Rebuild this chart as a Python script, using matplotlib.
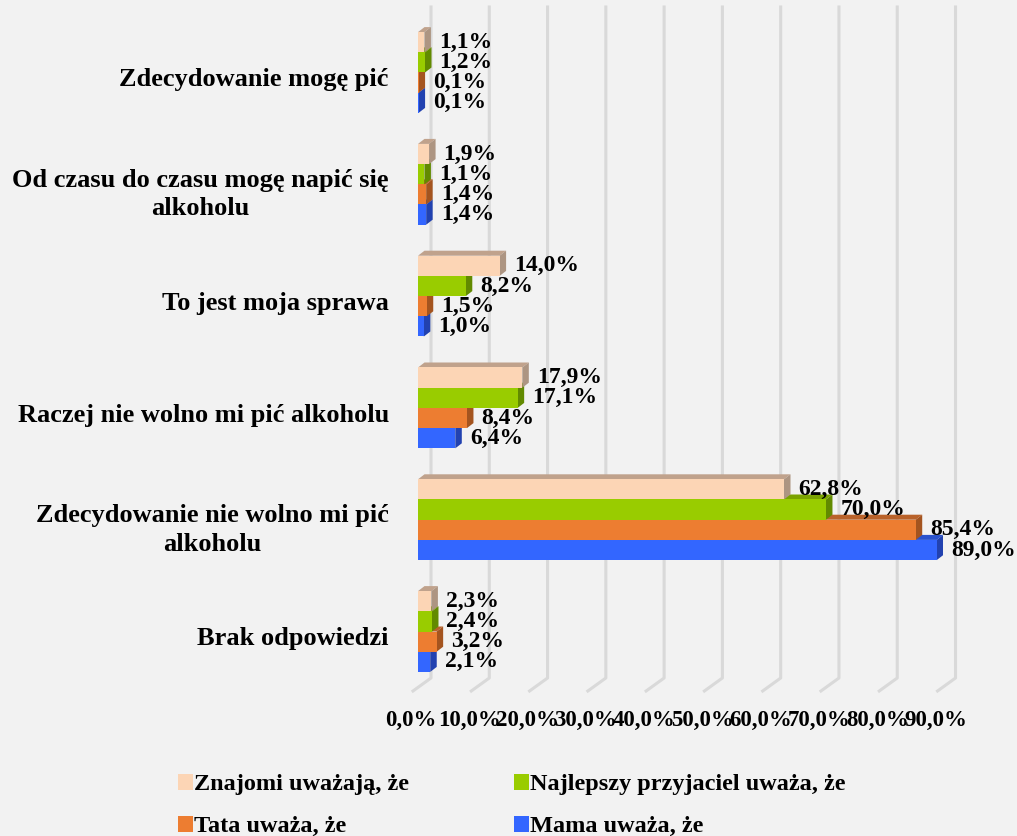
import matplotlib.pyplot as plt
import matplotlib.transforms as mtransforms
from matplotlib.patches import Polygon, Patch

plt.rcParams["font.family"] = ["Liberation Serif", "DejaVu Serif"]
plt.rcParams["font.weight"] = "bold"

categories = [
    "Zdecydowanie mogę pić",
    "Od czasu do czasu mogę napić się\nalkoholu",
    "To jest moja sprawa",
    "Raczej nie wolno mi pić alkoholu",
    "Zdecydowanie nie wolno mi pić\nalkoholu",
    "Brak odpowiedzi",
]
series_names = [
    "Znajomi uważają, że",
    "Najlepszy przyjaciel uważa, że",
    "Tata uważa, że",
    "Mama uważa, że",
]
znajomi = [1.1, 1.9, 14.0, 17.9, 62.8, 2.3]
przyjaciel = [1.2, 1.1, 8.2, 17.1, 70.0, 2.4]
tata = [0.1, 1.4, 1.5, 8.4, 85.4, 3.2]
mama = [0.1, 1.4, 1.0, 6.4, 89.0, 2.1]
x_ticks = [0, 10, 20, 30, 40, 50, 60, 70, 80, 90]

# front / top / side colours of each series
styles = [
    ("#FCD5B5", "#C0A28C", "#AD9582"),
    ("#99CC00", "#7BA300", "#628A00"),
    ("#ED7D31", "#B9622A", "#A4541F"),
    ("#3366FF", "#2A52CC", "#2242B0"),
]

W, H = 1017, 836
fig = plt.figure(figsize=(W / 100, H / 100), dpi=100, facecolor="#F2F2F2")

# pixel geometry of the plotting box
x0_px, px_per_pct = 418, 5.828
top_px, bottom_px = 7, 678
y0_px, px_per_cat = 72.5, 111.8
ax = fig.add_axes([x0_px / W, 1 - bottom_px / H,
                   90 * px_per_pct / W, (bottom_px - top_px) / H])
ax.set_facecolor("none")
ax.set_xlim(0, 90)
ax.set_ylim((bottom_px - y0_px) / px_per_cat, (top_px - y0_px) / px_per_cat)
for s in ax.spines.values():
    s.set_visible(False)

# 3d depth of the bars and of the floor, in data units
dx = 6.5 / px_per_pct
dy = 5 / px_per_cat
wall_dx = 13 / px_per_pct
floor_dx = 5 / px_per_pct
floor_dy = 13 / px_per_cat
bar_h = 20.2 / px_per_cat

y_bottom = ax.get_ylim()[0]
y_top = ax.get_ylim()[1]
for t in x_ticks:
    ax.plot([t + wall_dx, t + wall_dx, t - floor_dx],
            [y_top, y_bottom, y_bottom + floor_dy],
            color="#D9D9D9", lw=2.2, clip_on=False, zorder=0)

values = [znajomi, przyjaciel, tata, mama]
offsets = [-1.5, -0.5, 0.5, 1.5]

# draw bottom series first so the upper bars hide the hidden faces
for k in [3, 2, 1, 0]:
    front, top_c, side_c = styles[k]
    for i, v in enumerate(values[k]):
        yc = i + offsets[k] * bar_h
        yt, yb = yc - bar_h / 2, yc + bar_h / 2
        ax.add_patch(Polygon([(0, yt), (v, yt), (v + dx, yt - dy), (dx, yt - dy)],
                             closed=True, facecolor=top_c, edgecolor="none", zorder=2))
        ax.add_patch(Polygon([(v, yt), (v + dx, yt - dy), (v + dx, yb - dy), (v, yb)],
                             closed=True, facecolor=side_c, edgecolor="none", zorder=2))
        ax.barh(yc, v, height=bar_h, color=front, edgecolor="none", zorder=2)
        ax.annotate(f"{v:.1f}%".replace(".", ","), (v + dx, yc),
                    xytext=(8, 0), textcoords="offset pixels",
                    ha="left", va="center", fontsize=17, zorder=5,
                    annotation_clip=False)

ax.set_yticks(range(len(categories)))
ax.set_yticklabels(categories, fontsize=19)
ax.tick_params(axis="y", length=0, pad=21)
shift_y = mtransforms.ScaledTranslation(0, -5 / 100, fig.dpi_scale_trans)
for lbl in ax.get_yticklabels():
    lbl.set_multialignment("center")
    lbl.set_linespacing(1.3)
    lbl.set_transform(lbl.get_transform() + shift_y)

ax.set_xticks(x_ticks)
ax.set_xticklabels([f"{t:.1f}%".replace(".", ",") for t in x_ticks], fontsize=16.5)
ax.tick_params(axis="x", length=0, pad=23)
shift_x = mtransforms.ScaledTranslation(-7 / 100, 0, fig.dpi_scale_trans)
for lbl in ax.get_xticklabels():
    lbl.set_transform(lbl.get_transform() + shift_x)

handles = [Patch(facecolor=styles[k][0]) for k in range(4)]
order = [0, 2, 1, 3]
fig.legend([handles[k] for k in order], [series_names[k] for k in order],
           loc="upper left", bbox_to_anchor=(166 / W, 1 - 762 / H), ncol=2,
           frameon=False, borderpad=0, fontsize=17.5, handlelength=0.6,
           handleheight=0.6, handletextpad=0.05, columnspacing=4.33,
           labelspacing=0.85)

fig.savefig("out.png", dpi=100, facecolor=fig.get_facecolor())
